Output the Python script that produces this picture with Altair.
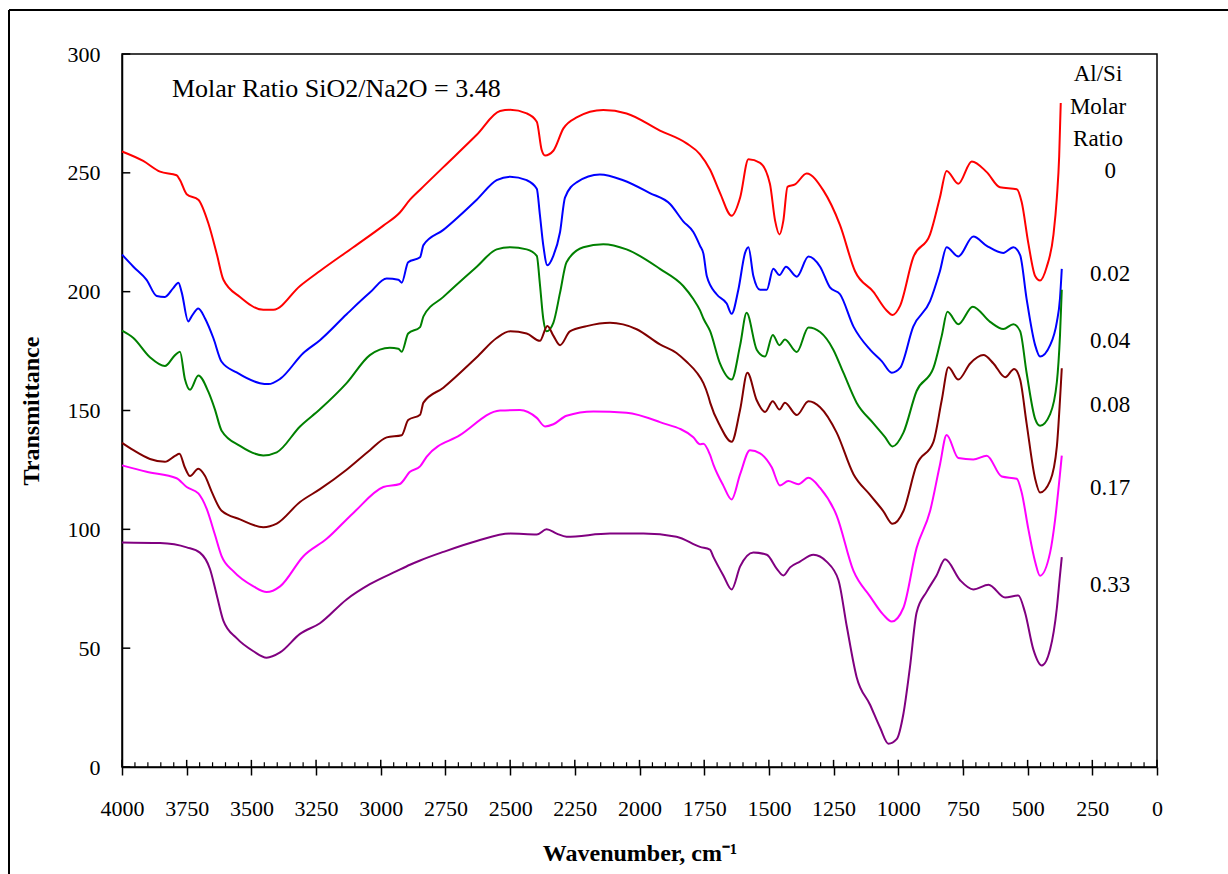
import altair as alt
import pandas as pd

# ---- data (wavenumber cm-1, transmittance) ----
series_names = ["0", "0.02", "0.04", "0.08", "0.17", "0.33"]
series_colors = ["#FF0000", "#0000FF", "#008000", "#800000", "#FF00FF", "#800080"]

red_w = [4000, 3918, 3853, 3789, 3776, 3750, 3705, 3666, 3634, 3608, 3544, 3454, 3415, 3312, 3235, 3106, 2990, 2926,
         2887, 2848, 2758, 2629, 2539, 2500, 2436, 2397, 2378, 2365, 2333, 2294, 2243, 2140, 2050, 1921, 1818, 1766,
         1727, 1689, 1644, 1611, 1579, 1534, 1496, 1476, 1459, 1444, 1428, 1399, 1354, 1289, 1225, 1167, 1096, 1045,
         1022, 993, 942, 877, 839, 813, 768, 716, 658, 607, 542, 523, 497, 471, 452, 426, 400, 387, 378, 372]
red_v = [259, 255, 250.5, 249, 247, 241, 238.7, 228.7, 216, 205, 197.8, 192.4, 192.4, 202.4, 208.7, 218.7, 227.8, 233.3,
         238.7, 242.9, 252.4, 266, 276, 276.5, 275, 271.5, 259.6, 257.3, 259.3, 268.7, 273.3, 276.4, 275, 267.8, 262.4, 257.8,
         251.3, 241.6, 231.9, 239.6, 255.7, 254.2, 245.4, 229.9, 224.1, 229.9, 244.1, 245.1, 249.7, 242.5, 228, 208.6, 199.9, 192.1,
         190.2, 194, 214.4, 224.1, 239.6, 250.8, 245.4, 254.8, 250.3, 243.9, 243.1, 237.7, 220.2, 206.6, 204.7, 210.5, 224.1, 239.6, 257.1, 279.4]

blue_w = [4000, 3956, 3905, 3866, 3834, 3802, 3782, 3769, 3744, 3731, 3705, 3679, 3647, 3615, 3557, 3467, 3434, 3389,
          3299, 3235, 3132, 3042, 2977, 2932, 2919, 2894, 2848, 2835, 2758, 2629, 2552, 2500, 2436, 2397, 2385, 2372,
          2356, 2333, 2307, 2288, 2243, 2153, 2063, 1960, 1882, 1831, 1792, 1766, 1753, 1740, 1702, 1663, 1644, 1618,
          1592, 1579, 1560, 1534, 1508, 1483, 1459, 1434, 1392, 1347, 1302, 1264, 1225, 1173, 1109, 1064, 1025, 993,
          942, 877, 839, 813, 768, 710, 658, 594, 555, 529, 504, 471, 452, 413, 387, 375, 368]
blue_v = [215.6, 210.5, 205, 198.2, 197.8, 201.5, 203.8, 199.6, 187.5, 189.6, 192.9, 188.7, 180.5, 170.5, 166, 161.5, 161.1, 163.3,
          174.2, 179.6, 190.5, 199.6, 205.5, 205, 203.8, 212.4, 214.5, 219.6, 226, 238.7, 246.9, 248.4, 246.9, 243.3, 232.4, 219.6,
          211.1, 215.1, 225.1, 239.6, 246, 249.3, 246.9, 241.5, 236.9, 229.6, 225.1, 219.3, 216, 206.6, 198.9, 195, 190.7, 200.8,
          216.3, 218.7, 206.6, 200.8, 200.8, 209.6, 207, 210.5, 206.3, 214.8, 210.5, 201.8, 198.9, 185.3, 175.6, 170.8, 165.9, 167.9,
          185.3, 196, 208.6, 218.7, 214.8, 223.2, 219.3, 216.3, 218.7, 215.4, 197, 177.5, 172.7, 177.5, 187.3, 197, 209.6]

green_w = [4000, 3956, 3892, 3834, 3795, 3776, 3757, 3737, 3705, 3666, 3641, 3615, 3544, 3454, 3402, 3312, 3235, 3132,
           3042, 2965, 2932, 2919, 2894, 2848, 2835, 2758, 2629, 2552, 2500, 2436, 2397, 2385, 2372, 2359, 2333, 2307,
           2282, 2217, 2140, 2050, 1921, 1831, 1792, 1766, 1753, 1727, 1689, 1644, 1611, 1586, 1547, 1515, 1485, 1459,
           1438, 1392, 1347, 1302, 1251, 1212, 1161, 1096, 1051, 1022, 980, 929, 864, 832, 810, 768, 712, 645, 594, 555,
           529, 504, 471, 452, 413, 387, 375, 368]
green_v = [183.6, 180.5, 172.4, 168.7, 173.3, 174.7, 163.3, 158.7, 164.7, 157.8, 150.5, 141.5, 135.1, 131.1, 132.4, 143.3, 150.5, 161.5,
           173.3, 176.4, 176, 174.7, 182.4, 185.1, 189.6, 197.8, 210.5, 217.8, 218.7, 217.8, 215.1, 203.3, 188.7, 183.3, 186.9, 199.6,
           212.4, 218.7, 220, 217.8, 209.6, 202.4, 196.9, 192.1, 188.7, 183.4, 169.8, 163, 177.5, 191.1, 175.6, 172.7, 181.8, 177.5,
           179.9, 174.6, 184.9, 183, 175.6, 165.9, 153.3, 144.6, 138.8, 134.9, 140.7, 158.2, 167.9, 181.4, 191.5, 186.3, 193.7, 187.3, 184.3, 186.3,
           183.4, 165.9, 146.5, 143.6, 148.5, 162, 181.4, 200.8]

brown_w = [4000, 3956, 3892, 3834, 3795, 3778, 3757, 3737, 3705, 3679, 3654, 3615, 3544, 3454, 3402, 3312, 3235, 3132,
           3042, 2977, 2919, 2894, 2848, 2835, 2758, 2629, 2552, 2500, 2436, 2385, 2356, 2333, 2307, 2269, 2204, 2114,
           2011, 1921, 1857, 1818, 1779, 1753, 1734, 1727, 1689, 1644, 1611, 1583, 1547, 1515, 1485, 1459, 1438, 1392,
           1347, 1302, 1238, 1173, 1109, 1058, 1022, 980, 929, 864, 832, 806, 768, 722, 671, 632, 587, 552, 529, 504,
           471, 452, 413, 387, 375, 368]
brown_v = [136.4, 133.3, 129.6, 128.4, 130.9, 131.8, 126, 122.4, 125.5, 122.4, 116, 107.8, 104.2, 100.9, 102.4, 111.5, 116.9, 125.1,
           133.3, 138.7, 139.6, 146, 148.2, 153.3, 159.6, 172.4, 180.5, 183.3, 182.4, 179.3, 185.6, 181.5, 177.5, 183.3, 185.5, 186.9,
           184.2, 177.8, 174.2, 170.5, 166, 161.5, 156, 153.3, 143.6, 136.8, 150.4, 165.9, 154.3, 149.4, 153.9, 150.4, 153.3, 148.1,
           153.9, 151.4, 140.7, 123.2, 114.5, 107.7, 102.3, 107.7, 127.1, 136.8, 154.3, 168.2, 163, 169.8, 173.3, 169.8, 164, 167.5, 163, 144.6,
           121.3, 115.5, 120.4, 134.9, 154.3, 167.8]

magenta_w = [4000, 3905, 3789, 3750, 3705, 3673, 3641, 3615, 3570, 3492, 3441, 3389, 3299, 3209, 3106, 2990, 2926, 2887,
             2848, 2823, 2694, 2539, 2462, 2397, 2365, 2333, 2282, 2178, 2050, 1921, 1792, 1766, 1753, 1728, 1714, 1676,
             1644, 1611, 1573, 1534, 1489, 1457, 1425, 1386, 1347, 1302, 1238, 1173, 1109, 1058, 1025, 980, 929, 877, 839,
             813, 768, 710, 658, 600, 542, 523, 497, 471, 452, 413, 394, 375, 368]
magenta_v = [126.9, 124.2, 121.5, 117.8, 115.1, 108.7, 97.8, 88.7, 82.4, 76, 73.6, 76, 88.7, 96, 106.9, 117.8, 119.1, 124.2,
             126.5, 130.5, 139.6, 150, 150.2, 146.9, 143.3, 144.2, 147.8, 149.6, 149.1, 145.1, 138.7, 135.8, 136, 131.5, 127.1, 118.4,
             112.6, 123.2, 133.3, 132, 126.1, 118.4, 120.3, 119, 121.7, 117.4, 105.8, 82.5, 71.8, 64.1, 61.2, 67, 92.2, 107.7, 127.1,
             139.7, 130, 129.4, 131, 122.2, 121.3, 115.5, 100, 86.4, 80.5, 90.3, 103.9, 123.2, 131]

purple_w = [4000, 3853, 3750, 3699, 3660, 3634, 3608, 3557, 3492, 3441, 3389, 3312, 3235, 3132, 3042, 2939, 2887, 2848,
            2758, 2629, 2500, 2397, 2359, 2320, 2282, 2114, 1985, 1857, 1766, 1728, 1714, 1676, 1644, 1611, 1560, 1508,
            1470, 1444, 1418, 1380, 1328, 1277, 1231, 1199, 1161, 1109, 1070, 1038, 1006, 980, 955, 929, 890, 852, 819,
            761, 710, 651, 587, 536, 510, 478, 445, 413, 387, 375, 368]
purple_v = [94.5, 94.2, 92.4, 90.2, 83.3, 72.4, 61.5, 54.2, 48.7, 46, 48.2, 56, 60.5, 70.5, 76.9, 82.4, 85.1, 86.9,
            90.5, 95.1, 98.2, 97.8, 100, 98.2, 96.9, 98.2, 98.2, 96.9, 92.6, 91.5, 88.3, 80.6, 74.7, 84.4, 90.3, 89.3,
            83.5, 80.6, 84, 86.4, 89.3, 86.4, 78.6, 59.2, 37.9, 26.2, 16.5, 9.8, 11.7, 22.4, 41.8, 65, 73.8, 80.6, 87.4,
            78.6, 74.7, 76.7, 71.3, 72.2, 65, 49.5, 42.7, 49.5, 66.9, 80.6, 88.3]

all_w = [red_w, blue_w, green_w, brown_w, magenta_w, purple_w]
all_v = [red_v, blue_v, green_v, brown_v, magenta_v, purple_v]

x_ticks = list(range(0, 4001, 250))
x_minor = [t for t in range(0, 4001, 50) if t % 250 != 0]
y_ticks = list(range(0, 301, 50))

# ---- tables ----
rows = []
for name, ws, vs in zip(series_names, all_w, all_v):
    for w, v in zip(ws, vs):
        rows.append({"w": w, "v": v, "series": name})
df = pd.DataFrame(rows)

FONT = "Liberation Serif"

xscale = alt.Scale(domain=[0, 4000], reverse=True, nice=False, zero=False)
yscale = alt.Scale(domain=[0, 300], nice=False, zero=True)

lines = alt.Chart(df).mark_line(strokeWidth=2, interpolate="monotone", clip=False).encode(
    x=alt.X("w:Q", scale=xscale,
            axis=alt.Axis(values=x_ticks, format="d", title="Wavenumber, cm\u207b\u00b9", grid=False,
                          tickSize=8, tickWidth=1.5, tickColor="black", domainColor="black", domainWidth=1.5,
                          labelFont=FONT, labelFontSize=22, labelColor="black", labelPadding=23,
                          labelFlush=False, labelOverlap=False,
                          titleFont=FONT, titleFontSize=24, titleFontWeight="bold", titleColor="black",
                          titlePadding=22)),
    y=alt.Y("v:Q", scale=yscale,
            axis=alt.Axis(values=y_ticks, format="d", title="Transmittance", grid=False, ticks=False,
                          domainColor="black", domainWidth=1.5,
                          labelFont=FONT, labelFontSize=22, labelColor="black", labelPadding=22,
                          labelFlush=False, labelOverlap=False,
                          titleFont=FONT, titleFontSize=24, titleFontWeight="bold", titleColor="black",
                          titlePadding=24)),
    color=alt.Color("series:N", scale=alt.Scale(domain=series_names, range=series_colors), legend=None),
    detail="series:N",
    order=alt.Order("w:Q", sort="descending"),
)

# inner tick marks
maj_df = pd.DataFrame({"w": x_ticks, "v": [0] * len(x_ticks), "v2": [3] * len(x_ticks)})
min_df = pd.DataFrame({"w": x_minor, "v": [0] * len(x_minor), "v2": [2] * len(x_minor)})
ytk_df = pd.DataFrame({"w": [4000] * len(y_ticks), "w2": [3968] * len(y_ticks), "v": y_ticks})

maj = alt.Chart(maj_df).mark_rule(color="black", strokeWidth=1.5).encode(
    x=alt.X("w:Q", scale=xscale), y=alt.Y("v:Q", scale=yscale), y2="v2:Q")
mnr = alt.Chart(min_df).mark_rule(color="black", strokeWidth=1.2).encode(
    x=alt.X("w:Q", scale=xscale), y=alt.Y("v:Q", scale=yscale), y2="v2:Q")
ytk = alt.Chart(ytk_df).mark_rule(color="black", strokeWidth=1.5).encode(
    x=alt.X("w:Q", scale=xscale), x2="w2:Q", y=alt.Y("v:Q", scale=yscale))

# annotations
ann_title = alt.Chart(pd.DataFrame({"w": [3807], "v": [285.3], "t": ["Molar Ratio SiO2/Na2O = 3.48"]})).mark_text(
    align="left", baseline="middle", font=FONT, fontSize=26, color="black").encode(
    x=alt.X("w:Q", scale=xscale), y=alt.Y("v:Q", scale=yscale), text="t:N")

head_df = pd.DataFrame({"w": [228, 228, 228], "v": [291.6, 277.7, 264.2], "t": ["Al/Si", "Molar", "Ratio"]})
ann_head = alt.Chart(head_df).mark_text(align="center", baseline="middle", font=FONT, fontSize=23, color="black").encode(
    x=alt.X("w:Q", scale=xscale), y=alt.Y("v:Q", scale=yscale), text="t:N")

lab_df = pd.DataFrame({"w": [181] * 6, "v": [250.8, 207.4, 179.2, 152.3, 117.4, 76.6], "t": series_names})
ann_lab = alt.Chart(lab_df).mark_text(align="center", baseline="middle", font=FONT, fontSize=23, color="black").encode(
    x=alt.X("w:Q", scale=xscale), y=alt.Y("v:Q", scale=yscale), text="t:N")

# outer frame (left and top edges of the figure border)
frame_data = alt.Data(values=[{}])
frame_left = alt.Chart(frame_data).mark_rule(color="black", strokeWidth=2).encode(
    x=alt.value(-113), y=alt.value(-44), y2=alt.value(830))
frame_top = alt.Chart(frame_data).mark_rule(color="black", strokeWidth=2).encode(
    x=alt.value(-113), x2=alt.value(1110), y=alt.value(-44))

chart = alt.layer(lines, maj, mnr, ytk, ann_title, ann_head, ann_lab, frame_left, frame_top).properties(
    width=1035, height=713,
    autosize=alt.AutoSizeParams(type="none"),
    padding={"left": 122, "top": 54, "right": 71, "bottom": 107},
    background="white",
).configure_view(stroke="black", strokeWidth=1.5)

chart.save("out.html", embed_options={"renderer": "svg", "actions": False})
